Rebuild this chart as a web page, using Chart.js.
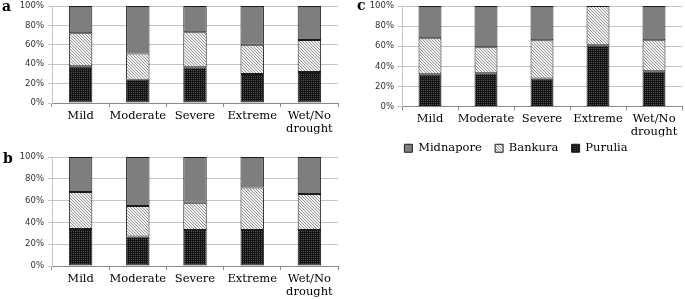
<!DOCTYPE html>
<html><head><meta charset="utf-8">
<script src="https://cdn.jsdelivr.net/npm/chart.js@4/dist/chart.umd.min.js"></script>
<style>
body{margin:0;background:#fff;width:685px;height:299px;position:relative;overflow:hidden}
canvas{position:absolute}
.lbl{position:absolute;font-family:"DejaVu Serif";font-weight:bold;font-size:14px;color:#000;line-height:14px}
</style></head><body>
<canvas id="ca" width="340" height="138" style="left:0;top:-3px"></canvas>
<canvas id="cb" width="340" height="159" style="left:0;top:140px"></canvas>
<canvas id="cc" width="335" height="167" style="left:350px;top:-3px"></canvas>
<div class="lbl" style="left:2px;top:-1px">a</div>
<div class="lbl" style="left:3px;top:151px">b</div>
<div class="lbl" style="left:357px;top:-2px">c</div>
<script>
const categories = ["Mild","Moderate","Severe","Extreme",["Wet/No","drought"]];
const seriesNames = ["Purulia","Bankura","Midnapore"];
const yTickLabels = ["0%","20%","40%","60%","80%","100%"];

// panel a
const aPurulia   = [38,24,37,30,32];
const aBankura   = [34,27,36,30,33];
const aMidnapore = [28,49,27,40,35];
// panel b
const bPurulia   = [34,27,33,33,33];
const bBankura   = [34,28,25,39,33];
const bMidnapore = [32,45,42,28,34];
// panel c
const cPurulia   = [32,33,28,61,35];
const cBankura   = [36,26,38,39,31];
const cMidnapore = [32,41,34,0,34];

function pat(w,h,draw){const c=document.createElement('canvas');c.width=w;c.height=h;const x=c.getContext('2d');draw(x);return x.createPattern(c,'repeat');}
const purPat = pat(2,2,x=>{x.fillStyle='#151515';x.fillRect(0,0,2,2);x.fillStyle='#4c4c4c';x.fillRect(1,1,1,1);});
const banPat = pat(3,3,x=>{x.fillStyle='#f0f0f0';x.fillRect(0,0,3,3);x.fillStyle='#9a9a9a';for(let i=0;i<3;i++)x.fillRect(i,i,1,1);});
const midPat = pat(2,2,x=>{x.fillStyle='#848484';x.fillRect(0,0,2,2);x.fillStyle='#787878';x.fillRect(0,0,1,1);x.fillRect(1,1,1,1);});
const fills = [purPat, banPat, midPat];

function datasets(arrs){
  return arrs.map((d,i)=>({label:seriesNames[i],data:d,backgroundColor:fills[i],borderColor:'#1a1a1a',borderWidth:1,borderSkipped:false,barPercentage:0.41,categoryPercentage:1}));
}
function opts(o){
  return {
    responsive:false, animation:false,
    layout:{padding:{top:o.top,right:o.right,left:0,bottom:o.bottom||0}},
    plugins:{
      tooltip:{enabled:false},
      legend:{display:!!o.legend, position:'bottom', reverse:true,
        labels:{boxWidth:8, boxHeight:8, padding:6, color:'#000', font:{family:'DejaVu Serif', size:11.5},
          generateLabels:(chart)=>{
            const items = Chart.defaults.plugins.legend.labels.generateLabels(chart);
            items.forEach(it=>{ if(it.text!==seriesNames[0]) it.text = it.text + '  '; });
            return items;
          }}}
    },
    scales:{
      x:{stacked:true,
         grid:{display:true, offset:true, drawOnChartArea:false, tickLength:4, color:'#8a8a8a'},
         border:{color:'#8a8a8a'},
         ticks:{font:{family:'DejaVu Serif', size:11.5, lineHeight:1.15}, color:'#000', padding:2, maxRotation:0, autoSkip:false},
         afterFit:s=>{s.height=o.xh;}},
      y:{stacked:true, min:0, max:100,
         ticks:{stepSize:20, callback:(v,i)=>yTickLabels[i], font:{family:'DejaVu Sans', size:8.5}, color:'#333', padding:4},
         grid:{color:'#c4c4c4', tickLength:4},
         border:{color:'#c4c4c4'},
         afterFit:s=>{s.width=52;}}
    }
  };
}
new Chart(document.getElementById('ca'),{type:'bar',data:{labels:categories,datasets:datasets([aPurulia,aBankura,aMidnapore])},options:opts({top:2,right:2,xh:32})});
new Chart(document.getElementById('cb'),{type:'bar',data:{labels:categories,datasets:datasets([bPurulia,bBankura,bMidnapore])},options:opts({top:17,right:2,xh:33})});
new Chart(document.getElementById('cc'),{type:'bar',data:{labels:categories,datasets:datasets([cPurulia,cBankura,cMidnapore])},options:opts({top:2,right:3,xh:30,legend:true,bottom:0})});
</script>
</body></html>
